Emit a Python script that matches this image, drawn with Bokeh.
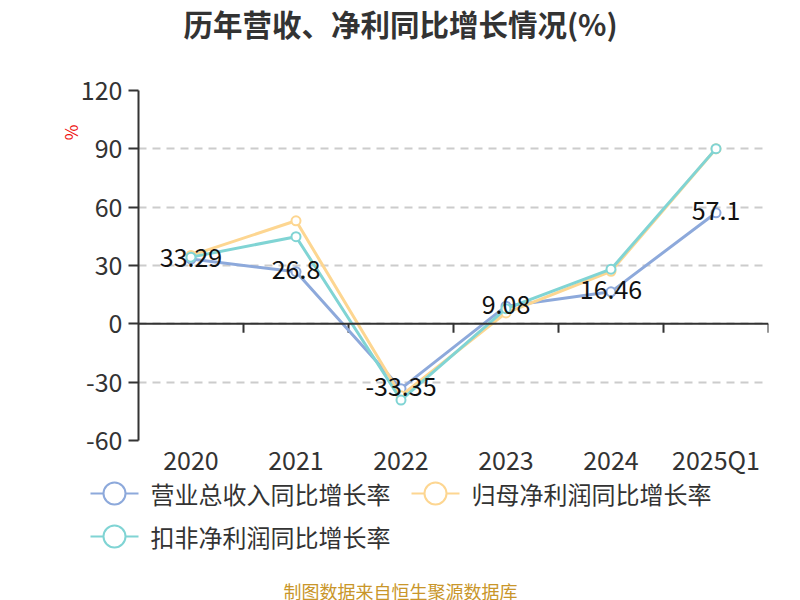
from bokeh.plotting import figure
from bokeh.models import Range1d, FixedTicker, Span, Title, ColumnDataSource
from bokeh.layouts import column
from bokeh.embed import file_html
from bokeh.resources import INLINE
from bokeh.core.properties import value

# ---------------- data ----------------
categories = ["2020", "2021", "2022", "2023", "2024", "2025Q1"]
revenue_growth = [33.29, 26.8, -33.35, 9.08, 16.46, 57.1]
net_profit_growth = [35.2, 53.0, -37.0, 5.6, 27.0, 90.0]
deducted_profit_growth = [34.3, 44.8, -39.2, 7.8, 28.1, 90.1]
series_names = ["营业总收入同比增长率", "归母净利润同比增长率", "扣非净利润同比增长率"]
series_colors = ["#8DA9DB", "#FDD691", "#80D4D4"]
y_ticks = [-60, -30, 0, 30, 60, 90, 120]
title_text = "历年营收、净利同比增长情况(%)"
unit_text = "%"
footer_text = "制图数据来自恒生聚源数据库"

FONT = "Noto Sans CJK SC"
W = 800
H0, H1, H2 = 50, 429, 121
BL, BR, BT, BB = 138, 32, 40, 39
frame_h = H1 - BT - BB


def canvas(h):
    f = figure(width=W, height=h, x_range=Range1d(0, W), y_range=Range1d(h, 0),
               output_backend="svg", toolbar_location=None, min_border=0,
               x_axis_location=None, y_axis_location=None)
    f.frame_align = False
    f.outline_line_color = None
    f.grid.visible = False
    return f


# ---------------- title ----------------
t = canvas(H0)
t.text([W / 2], [22], text=[title_text], text_align="center", text_baseline="middle",
       text_font=value(FONT), text_font_size="29.5px", text_font_style="bold",
       text_color="#333333")

# ---------------- chart ----------------
p = figure(width=W, height=H1, x_range=categories, y_range=Range1d(y_ticks[0], y_ticks[-1]),
           output_backend="svg", toolbar_location=None,
           min_border_left=BL, min_border_right=BR, min_border_top=BT, min_border_bottom=BB)
p.frame_align = False
p.outline_line_color = None

# unit label
p.add_layout(Title(text=unit_text, align="right", text_font=FONT, text_font_size="17px",
                   text_font_style="normal", text_color="#ee1111", offset=34, standoff=-10),
             "left")

# y axis
p.yaxis.ticker = FixedTicker(ticks=y_ticks)
p.yaxis.major_label_overrides = {v: str(v) for v in y_ticks}
p.yaxis.axis_line_color = "#333333"
p.yaxis.axis_line_width = 2
p.yaxis.major_tick_line_color = "#333333"
p.yaxis.major_tick_line_width = 2
p.yaxis.major_tick_out = 10
p.yaxis.major_tick_in = 0
p.yaxis.minor_tick_line_color = None
p.yaxis.major_label_text_font = FONT
p.yaxis.major_label_text_font_size = "25px"
p.yaxis.major_label_text_color = "#333333"
p.yaxis.major_label_standoff = 6

# x axis (labels only; the line is drawn at zero)
p.xaxis.axis_line_color = None
p.xaxis.major_tick_line_color = None
p.xaxis.minor_tick_line_color = None
p.xaxis.major_label_text_font = FONT
p.xaxis.major_label_text_font_size = "25px"
p.xaxis.major_label_text_color = "#333333"
p.xaxis.major_label_standoff = -6

p.xgrid.grid_line_color = None
p.ygrid.ticker = FixedTicker(ticks=y_ticks)
p.ygrid.grid_line_color = "#cccccc"
p.ygrid.grid_line_width = 2
p.ygrid.grid_line_dash = "8 6"

# zero axis line with ticks at category boundaries
p.add_layout(Span(location=0, dimension="width", line_color="#333333", line_width=2))
units_per_px = (y_ticks[-1] - y_ticks[0]) / frame_h
tick_x = list(range(1, len(categories) + 1))
p.segment(x0=tick_x, y0=[0] * len(tick_x), x1=tick_x, y1=[-9 * units_per_px] * len(tick_x),
          line_color="#333333", line_width=2)

series = [revenue_growth, net_profit_growth, deducted_profit_growth]
for vals, col in zip(series, series_colors):
    src = ColumnDataSource(dict(x=categories, y=vals))
    p.line("x", "y", source=src, line_color=col, line_width=3)
    p.scatter("x", "y", source=src, marker="circle", size=9, fill_color="white",
              line_color=col, line_width=2)

lab = ColumnDataSource(dict(x=categories, y=revenue_growth,
                            t=[f"{v:g}" for v in revenue_growth]))
p.text("x", "y", text="t", source=lab, text_align="center", text_baseline="middle",
       y_offset=-2, text_font=value(FONT), text_font_size="25px", text_color="#111111")

# ---------------- legend + footer ----------------
top2 = H0 + H1
q = canvas(H2)
icon_left = [90, 411, 90]
icon_y = [493 - top2, 493 - top2, 536 - top2]
icon_w = 48
for name, col, lx, ly in zip(series_names, series_colors, icon_left, icon_y):
    q.line([lx, lx + icon_w], [ly, ly], line_color=col, line_width=2)
    q.scatter([lx + icon_w / 2], [ly], marker="circle", size=22, fill_color="white",
              line_color=col, line_width=2)
    q.text([lx + icon_w + 12], [ly], text=[name], text_align="left", text_baseline="middle",
           text_font=value(FONT), text_font_size="24px", text_color="#333333")

q.text([W / 2], [590 - top2], text=[footer_text], text_align="center", text_baseline="middle",
       text_font=value(FONT), text_font_size="18px", text_color="#C9962A")

layout = column(t, p, q, spacing=0)
open("out.html", "w").write(file_html(layout, INLINE))
